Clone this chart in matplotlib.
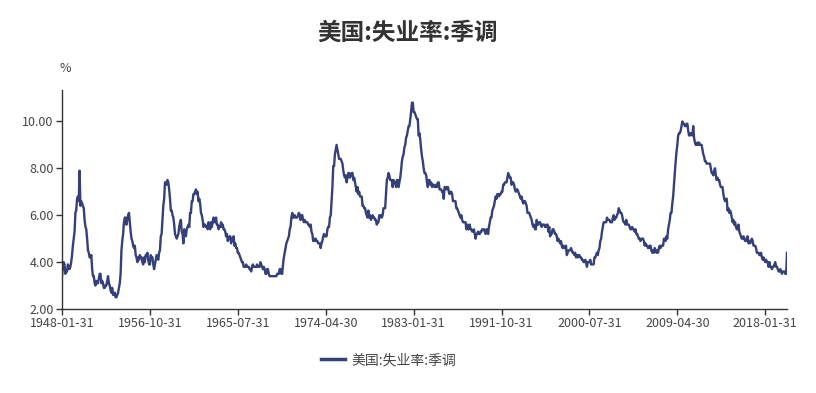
import matplotlib
matplotlib.use("Agg")
import matplotlib.pyplot as plt
import pandas as pd
import numpy as np

plt.rcParams['font.family'] = ['Noto Sans CJK SC', 'DejaVu Sans']

title = "美国:失业率:季调"
series_name = "美国:失业率:季调"
unit = "%"

dates = pd.date_range("1948-01-31", periods=867, freq="ME").strftime("%Y-%m-%d").tolist()

values = [
    3.4, 3.8, 4.0, 3.9, 3.5, 3.6, 3.6, 3.9, 3.8, 3.7, 3.8, 4.0,
    4.3, 4.7, 5.0, 5.3, 6.1, 6.2, 6.7, 6.8, 6.6, 7.9, 6.4, 6.6,
    6.5, 6.4, 6.3, 5.8, 5.5, 5.4, 5.0, 4.5, 4.4, 4.2, 4.2, 4.3,
    3.7, 3.4, 3.4, 3.1, 3.0, 3.2, 3.1, 3.1, 3.3, 3.5, 3.5, 3.1,
    3.2, 3.1, 2.9, 2.9, 3.0, 3.0, 3.2, 3.4, 3.1, 3.0, 2.8, 2.7,
    2.9, 2.6, 2.6, 2.7, 2.5, 2.5, 2.6, 2.7, 2.9, 3.1, 3.5, 4.5,
    4.9, 5.2, 5.7, 5.9, 5.9, 5.6, 5.8, 6.0, 6.1, 5.7, 5.3, 5.0,
    4.9, 4.7, 4.6, 4.7, 4.3, 4.2, 4.0, 4.2, 4.1, 4.3, 4.2, 4.2,
    4.0, 3.9, 4.2, 4.0, 4.3, 4.3, 4.4, 4.1, 3.9, 3.9, 4.3, 4.2,
    4.2, 3.9, 3.7, 3.9, 4.1, 4.3, 4.2, 4.1, 4.4, 4.5, 5.1, 5.2,
    5.8, 6.4, 6.7, 7.4, 7.4, 7.3, 7.5, 7.4, 7.1, 6.7, 6.2, 6.2,
    6.0, 5.9, 5.6, 5.2, 5.1, 5.0, 5.1, 5.2, 5.5, 5.7, 5.8, 5.3,
    5.2, 4.8, 5.4, 5.2, 5.1, 5.4, 5.5, 5.6, 5.5, 6.1, 6.1, 6.6,
    6.6, 6.9, 6.9, 7.0, 7.1, 6.9, 7.0, 6.6, 6.7, 6.5, 6.1, 6.0,
    5.8, 5.5, 5.6, 5.6, 5.5, 5.5, 5.4, 5.7, 5.6, 5.4, 5.7, 5.5,
    5.7, 5.9, 5.7, 5.7, 5.9, 5.6, 5.6, 5.4, 5.5, 5.5, 5.7, 5.5,
    5.6, 5.4, 5.4, 5.3, 5.1, 5.2, 4.9, 5.0, 5.1, 5.1, 4.8, 5.0,
    4.9, 5.1, 4.7, 4.8, 4.6, 4.6, 4.4, 4.4, 4.3, 4.2, 4.1, 4.0,
    4.0, 3.8, 3.8, 3.8, 3.9, 3.8, 3.8, 3.8, 3.7, 3.7, 3.6, 3.8,
    3.9, 3.8, 3.8, 3.8, 3.8, 3.9, 3.8, 3.8, 3.8, 4.0, 3.9, 3.8,
    3.7, 3.8, 3.7, 3.5, 3.5, 3.7, 3.7, 3.5, 3.4, 3.4, 3.4, 3.4,
    3.4, 3.4, 3.4, 3.4, 3.4, 3.5, 3.5, 3.5, 3.7, 3.7, 3.5, 3.5,
    3.9, 4.2, 4.4, 4.6, 4.8, 4.9, 5.0, 5.1, 5.4, 5.5, 5.9, 6.1,
    5.9, 5.9, 6.0, 5.9, 5.9, 5.9, 6.0, 6.1, 6.0, 5.8, 6.0, 6.0,
    5.8, 5.7, 5.8, 5.7, 5.7, 5.7, 5.6, 5.6, 5.5, 5.6, 5.3, 5.2,
    4.9, 5.0, 4.9, 5.0, 4.9, 4.9, 4.8, 4.8, 4.8, 4.6, 4.8, 4.9,
    5.1, 5.2, 5.1, 5.1, 5.1, 5.4, 5.5, 5.5, 5.9, 6.0, 6.6, 7.2,
    8.1, 8.1, 8.6, 8.8, 9.0, 8.8, 8.6, 8.4, 8.4, 8.4, 8.3, 8.2,
    7.9, 7.7, 7.6, 7.7, 7.4, 7.6, 7.8, 7.8, 7.6, 7.7, 7.8, 7.8,
    7.5, 7.6, 7.4, 7.2, 7.0, 7.2, 6.9, 7.0, 6.8, 6.8, 6.8, 6.4,
    6.4, 6.3, 6.3, 6.1, 6.0, 5.9, 6.2, 5.9, 6.0, 5.8, 5.9, 6.0,
    5.9, 5.9, 5.8, 5.8, 5.6, 5.7, 5.7, 6.0, 5.9, 6.0, 5.9, 6.0,
    6.3, 6.3, 6.3, 6.9, 7.5, 7.6, 7.8, 7.7, 7.5, 7.5, 7.5, 7.2,
    7.5, 7.4, 7.4, 7.2, 7.5, 7.5, 7.2, 7.4, 7.6, 7.9, 8.3, 8.5,
    8.6, 8.9, 9.0, 9.3, 9.4, 9.6, 9.8, 9.8, 10.1, 10.4, 10.8, 10.8,
    10.4, 10.4, 10.3, 10.2, 10.1, 10.1, 9.4, 9.5, 9.2, 8.8, 8.5, 8.3,
    8.0, 7.8, 7.8, 7.7, 7.4, 7.2, 7.5, 7.5, 7.3, 7.4, 7.2, 7.3,
    7.3, 7.2, 7.2, 7.3, 7.2, 7.4, 7.4, 7.1, 7.1, 7.1, 7.0, 7.0,
    6.7, 7.2, 7.2, 7.1, 7.2, 7.2, 7.0, 6.9, 7.0, 7.0, 6.9, 6.6,
    6.6, 6.6, 6.6, 6.3, 6.3, 6.2, 6.1, 6.0, 5.9, 6.0, 5.8, 5.7,
    5.7, 5.7, 5.7, 5.4, 5.6, 5.4, 5.4, 5.6, 5.4, 5.4, 5.3, 5.3,
    5.4, 5.2, 5.0, 5.2, 5.2, 5.3, 5.2, 5.2, 5.3, 5.3, 5.4, 5.4,
    5.4, 5.3, 5.2, 5.4, 5.4, 5.2, 5.5, 5.7, 5.9, 5.9, 6.2, 6.3,
    6.4, 6.6, 6.8, 6.7, 6.9, 6.9, 6.8, 6.9, 6.9, 7.0, 7.0, 7.3,
    7.3, 7.4, 7.4, 7.4, 7.6, 7.8, 7.7, 7.6, 7.6, 7.3, 7.4, 7.4,
    7.3, 7.1, 7.0, 7.1, 7.1, 7.0, 6.9, 6.8, 6.7, 6.8, 6.6, 6.5,
    6.6, 6.6, 6.5, 6.4, 6.1, 6.1, 6.1, 6.0, 5.9, 5.8, 5.6, 5.5,
    5.6, 5.4, 5.4, 5.8, 5.6, 5.6, 5.7, 5.7, 5.6, 5.5, 5.6, 5.6,
    5.6, 5.5, 5.5, 5.6, 5.6, 5.3, 5.5, 5.1, 5.2, 5.2, 5.4, 5.4,
    5.3, 5.2, 5.2, 5.1, 4.9, 5.0, 4.9, 4.8, 4.9, 4.7, 4.6, 4.7,
    4.6, 4.6, 4.7, 4.3, 4.4, 4.5, 4.5, 4.5, 4.6, 4.5, 4.4, 4.4,
    4.3, 4.4, 4.2, 4.3, 4.2, 4.3, 4.3, 4.2, 4.2, 4.1, 4.1, 4.0,
    4.0, 4.1, 4.0, 3.8, 4.0, 4.0, 4.0, 4.1, 3.9, 3.9, 3.9, 3.9,
    4.2, 4.2, 4.3, 4.4, 4.3, 4.5, 4.6, 4.9, 5.0, 5.3, 5.5, 5.7,
    5.7, 5.7, 5.7, 5.9, 5.8, 5.8, 5.8, 5.7, 5.7, 5.7, 5.9, 6.0,
    5.8, 5.9, 5.9, 6.0, 6.1, 6.3, 6.2, 6.1, 6.1, 6.0, 5.8, 5.7,
    5.7, 5.6, 5.8, 5.6, 5.6, 5.6, 5.5, 5.4, 5.4, 5.5, 5.4, 5.4,
    5.3, 5.4, 5.2, 5.2, 5.1, 5.0, 5.0, 4.9, 5.0, 5.0, 5.0, 4.9,
    4.7, 4.8, 4.7, 4.7, 4.6, 4.6, 4.7, 4.7, 4.5, 4.4, 4.5, 4.4,
    4.6, 4.5, 4.4, 4.5, 4.4, 4.6, 4.7, 4.6, 4.7, 4.7, 4.7, 5.0,
    5.0, 4.9, 5.1, 5.0, 5.4, 5.6, 5.8, 6.1, 6.1, 6.5, 6.8, 7.3,
    7.8, 8.3, 8.7, 9.0, 9.4, 9.5, 9.5, 9.6, 9.8, 10.0, 9.9, 9.9,
    9.8, 9.8, 9.9, 9.9, 9.6, 9.4, 9.4, 9.5, 9.5, 9.4, 9.8, 9.3,
    9.1, 9.0, 9.0, 9.1, 9.0, 9.1, 9.0, 9.0, 9.0, 8.8, 8.6, 8.5,
    8.3, 8.3, 8.2, 8.2, 8.2, 8.2, 8.2, 8.0, 7.8, 7.8, 7.7, 7.9,
    8.0, 7.7, 7.5, 7.6, 7.5, 7.5, 7.3, 7.2, 7.2, 7.2, 6.9, 6.7,
    6.6, 6.7, 6.7, 6.2, 6.3, 6.1, 6.2, 6.1, 5.9, 5.7, 5.8, 5.6,
    5.7, 5.5, 5.4, 5.4, 5.6, 5.3, 5.2, 5.1, 5.0, 5.0, 5.1, 5.0,
    4.9, 4.9, 5.0, 5.1, 4.8, 4.9, 4.8, 4.9, 5.0, 4.9, 4.7, 4.7,
    4.7, 4.6, 4.4, 4.4, 4.4, 4.3, 4.3, 4.4, 4.2, 4.1, 4.2, 4.1,
    4.0, 4.1, 4.0, 4.0, 3.8, 4.0, 3.8, 3.8, 3.7, 3.8, 3.8, 3.9,
    4.0, 3.8, 3.8, 3.7, 3.6, 3.6, 3.7, 3.6, 3.5, 3.6, 3.6, 3.6,
    3.5, 3.5, 4.4,
]

y_ticks = [2.0, 4.0, 6.0, 8.0, 10.0]

line_color = "#34407a"
text_color = "#444444"
axis_color = "#333333"

W, H = 816, 393
fig = plt.figure(figsize=(W / 100, H / 100), dpi=100)
left, right, top, bottom = 62, 787, 90, 309
ax = fig.add_axes([left / W, 1 - bottom / H, (right - left) / W, (bottom - top) / H])

x = np.arange(len(values))
ax.plot(x, values, color=line_color, lw=1.7, solid_joinstyle="round", label=series_name)

ymin = min(values) * 0.8
ymax = max(values) * 1.05
ax.set_ylim(ymin, ymax)
ax.set_xlim(0, len(values) - 1)

ax.set_yticks(y_ticks)
ax.set_yticklabels([f"{v:.2f}" for v in y_ticks])
xt = list(range(0, len(dates), 105))
ax.set_xticks(xt)
ax.set_xticklabels([dates[i] for i in xt])

for s in ["top", "right"]:
    ax.spines[s].set_visible(False)
for s in ["left", "bottom"]:
    ax.spines[s].set_color(axis_color)
    ax.spines[s].set_linewidth(1)
ax.tick_params(axis="both", colors=axis_color, labelcolor=text_color, labelsize=9, length=4, width=1, pad=2)

fig.text(408 / W, 1 - 33 / H, title, ha="center", va="center", fontsize=17, fontweight="bold", color="#333333")
fig.text(65 / W, 1 - 68 / H, unit, ha="center", va="center", fontsize=9, color=text_color)

leg = fig.legend(loc="center", bbox_to_anchor=(389 / W, 1 - 360 / H), frameon=False, fontsize=10,
                 handlelength=1.7, handletextpad=0.5, labelcolor=text_color)
for lh in leg.get_lines():
    lh.set_linewidth(2.5)

fig.savefig("out.png", dpi=100)
